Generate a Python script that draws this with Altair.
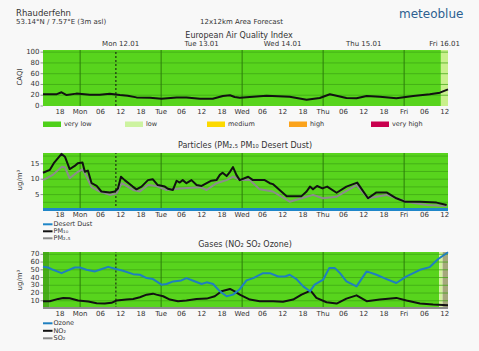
import altair as alt
import pandas as pd

FONT = "DejaVu Sans"
TXT = "#333333"
GREEN = "#58d41d"
HGRID = "#3da313"
VGRID = "#2c7d0b"

# ---------------- data (hours relative to Mon 12.01 00:00) ----------------
X_DOMAIN = [-11, 109]
midnights = [0, 24, 48, 72, 96]
now_hour = 10.6

xtick_h = [-6, 0, 6, 12, 18, 24, 30, 36, 42, 48, 54, 60, 66, 72, 78, 84, 90, 96, 102, 108]
xtick_lab = ["18", "Mon", "06", "12", "18", "Tue", "06", "12", "18", "Wed", "06", "12",
             "18", "Thu", "06", "12", "18", "Fri", "06", "12"]
day_h = [12, 36, 60, 84, 108]
day_lab = ["Mon 12.01", "Tue 13.01", "Wed 14.01", "Thu 15.01", "Fri 16.01"]

# CAQI
caqi_h = [-11, -9, -6.9, -5.5, -4, -1.1, 2.9, 5.8, 8.8, 11.8, 14.1, 16.7, 20.7, 24.1, 28.6,
          31.5, 35.5, 39.3, 42.3, 44.4, 45.8, 47.3, 51.3, 55.2, 62.1, 67.1, 71.0, 74.0, 78.9,
          81.9, 84.9, 88.8, 93.7, 98.7, 103.6, 106.6, 109]
caqi_v = [22, 22, 22, 25.5, 20.4, 23, 21, 21, 22.9, 20.4, 19, 16, 15.5, 13.6, 16,
          16, 13.6, 13.6, 18.6, 19.9, 16.7, 15.5, 17.3, 19.2, 17.3, 11.7, 14.9, 21.7, 14.9,
          14.3, 18.6, 17.3, 14.3, 18.6, 21.7, 24.7, 31]
caqi_band_h1 = [-11, 106.9]
caqi_band_h2 = [106.9, 109]
caqi_band_col = ["#58d41d", "#c9f08c"]

legend_lab = ["very low", "low", "medium", "high", "very high"]
legend_col = ["#4fd01a", "#cdf3a0", "#fcd900", "#fba31c", "#c9004e"]

# Particles
pm10_h = [-11, -9, -7.8, -5.5, -4.5, -3.1, -1.6, -0.7, 0.7, 1.4, 2.3, 3.4, 4.9, 6.3, 8.8,
          10.3, 11.2, 12.1, 13.2, 15.6, 16.7, 18.2, 20.1, 21.5, 23.0, 25.1, 26.0, 27.5, 28.6,
          29.5, 30.4, 31.5, 33.0, 34.5, 36.0, 37.5, 38.9, 40.4, 41.4, 42.2, 43.4, 44.4, 45.3,
          46.3, 47.3, 49.8, 51.2, 54.7, 56.2, 57.1, 61.2, 65.6, 67.1, 68.1, 69.0, 70.2, 71.8,
          73.2, 76.0, 78.9, 82.1, 85.3, 87.8, 90.8, 93.7, 96.2, 99.7, 100.7, 105.6, 108.6]
pm10_v = [12.1, 13, 15.2, 18.2, 17.3, 13.3, 14.3, 15.2, 15.4, 12.4, 12.8, 8.7, 7.8, 6, 5.7,
          6, 7, 10.8, 9.7, 7.6, 6.7, 7.6, 9.7, 10, 8.1, 7.6, 6.9, 6.5, 9.5,
          8.9, 9.7, 8.7, 9.7, 8.1, 7.8, 8.7, 9.5, 9.7, 11.4, 12.1, 11, 12.4, 13.9,
          11.4, 9.7, 10.8, 9.7, 9.7, 8.7, 8.4, 4.5, 4.5, 6, 7.6, 6.7, 7.8, 7,
          7.6, 5.6, 7.6, 8.9, 3.8, 5.7, 5.7, 3.8, 2.7, 2.7, 2.7, 2.4, 1.6]
pm25_h = [-11, -8.1, -5.5, -4.5, -3.1, -0.7, 0.7, 1.9, 3.4, 5.8, 8.8, 10.8, 12.3, 15.7, 17.7,
          20.1, 22.6, 25.6, 29.5, 35.5, 37.5, 40.4, 43.4, 45.3, 47.3, 50.3, 53.2, 57.1, 62.1,
          65.6, 69.0, 71.9, 76.0, 81.9, 85.3, 90.8, 93.7, 96.7, 102.6, 108.6]
pm25_v = [9.7, 11.4, 14, 13.9, 10.3, 12.4, 13.2, 10.8, 7.4, 6, 4.9, 5.4, 8.7, 6.5, 6,
          8.1, 7.8, 6.5, 7, 7.4, 6.5, 8.7, 9.7, 10.8, 9.7, 9.7, 6.7, 6, 2.7,
          3.8, 4.9, 3.8, 4.3, 8.1, 3.8, 4.9, 3.8, 2.7, 1.6, 1.3]
dust_h = [-11, 24, 48, 72, 96, 109]
dust_v = [0.2, 0.2, 0.2, 0.2, 0.2, 0.2]

# Gases
ozone_h = [-11, -9.5, -8, -5.5, -4, -1.6, -0.1, 1.9, 4.4, 5.8, 8.3, 10.3, 12.7, 15.7, 17.7,
           19.7, 21.6, 24.1, 25.6, 27.6, 30, 31.5, 33.5, 36, 37.5, 39.4, 41.4, 43.4, 45.3,
           47.3, 49.3, 51.3, 54.2, 56.2, 58.7, 60.7, 62.1, 64.1, 66.1, 68.1, 69.5, 72, 73.8,
           75.5, 77, 78.9, 81.9, 84.9, 87.8, 90.8, 93.7, 96.7, 100.7, 103.6, 106.1, 109]
ozone_v = [54, 53, 50, 45.7, 48.7, 53, 53, 50, 47.9, 50, 53.8, 51.3, 48.7, 44.4, 43.6,
           39.3, 38, 30.8, 31.6, 35, 36.3, 39.3, 35.9, 31.6, 33.8, 31.6, 22.2, 15.8, 17.9,
           25, 36.3, 39.3, 45.7, 45.7, 41.4, 41.4, 43.6, 38, 28.6, 22.2, 30.8, 37.2, 52.2,
           52.2, 45.7, 35, 28.6, 47.9, 43.6, 38, 32.9, 41.4, 50, 53.5, 64, 72.7]
no2_h = [-11, -9, -6.5, -5, -3.1, -0.6, 2.4, 4.9, 7.3, 9.3, 10.8, 13.7, 15.7, 17.7, 19.7,
         21.6, 22.6, 24.6, 26.6, 29, 31.5, 34.5, 37.5, 39.9, 41.9, 44.4, 45.8, 47.3, 50.3,
         53.2, 57.2, 60.1, 63.1, 65.6, 68.3, 70, 73, 76, 78.9, 81.9, 84.9, 88.8, 93.7, 96.7,
         100.7, 104.6, 109]
no2_v = [9.4, 9.4, 12.4, 13.7, 13.2, 10.3, 9, 6.8, 6.4, 7.3, 10.3, 11.5, 12.4, 14.5, 17.9,
         19.2, 17.9, 15.8, 11.5, 9.4, 10.3, 12.4, 12.8, 15.8, 22.2, 25.3, 22.2, 17.9, 11.5,
         9.4, 9.4, 8.6, 11.5, 17.9, 23, 13.7, 8.1, 6.4, 12.8, 17, 9.4, 11.5, 13.7, 10.3,
         6.4, 5.1, 4.2]
so2_h = [-11, 24, 48, 72, 96, 109]
so2_v = [0.8, 0.8, 0.8, 0.8, 0.8, 0.8]
gas_band_h1 = [-11, -9, 106.4, 107.4]
gas_band_h2 = [-9, 106.4, 107.4, 109]
gas_band_col = ["#47ad19", "#58d41d", "#d2f19c", "#a5a87c"]

# ---------------- helpers ----------------
XS = alt.Scale(domain=X_DOMAIN, range=[43, 448], nice=False, zero=False)


def txt(s, x, y, size=7, align="left", color=TXT, weight="normal", angle=0):
    kw = dict(align=align, baseline="middle", fontSize=size, font=FONT, color=color,
              fontWeight=weight)
    if angle:
        kw["angle"] = angle
    return alt.Chart(pd.DataFrame({"t": [s]})).mark_text(**kw).encode(
        x=alt.value(x), y=alt.value(y), text="t:N")


def panel(ydom, yrng, bands, grid_vals, tick_vals, series, xlab_y):
    ys = alt.Scale(domain=ydom, range=yrng, nice=False, zero=False)
    layers = []
    bdf = pd.DataFrame({"h1": bands[0], "h2": bands[1], "col": bands[2],
                        "y1": ydom[0], "y2": ydom[1]})
    layers.append(alt.Chart(bdf).mark_rect().encode(
        x=alt.X("h1:Q", scale=XS, axis=None), x2="h2:Q",
        y=alt.Y("y1:Q", scale=ys, axis=None), y2="y2:Q",
        color=alt.Color("col:N", scale=None)))
    gdf = pd.DataFrame({"g": grid_vals, "h1": X_DOMAIN[0], "h2": X_DOMAIN[1]})
    layers.append(alt.Chart(gdf).mark_rule(color=HGRID, strokeWidth=0.8, opacity=0.9).encode(
        x=alt.X("h1:Q", scale=XS, axis=None), x2="h2:Q",
        y=alt.Y("g:Q", scale=ys, axis=None)))
    vdf = pd.DataFrame({"h": midnights, "y1": ydom[0], "y2": ydom[1]})
    layers.append(alt.Chart(vdf).mark_rule(color=VGRID, strokeWidth=1).encode(
        x=alt.X("h:Q", scale=XS, axis=None),
        y=alt.Y("y1:Q", scale=ys, axis=None), y2="y2:Q"))
    ndf = pd.DataFrame({"h": [now_hour], "y1": ydom[0], "y2": ydom[1]})
    layers.append(alt.Chart(ndf).mark_rule(color="#111111", strokeWidth=1,
                                           strokeDash=[2, 2]).encode(
        x=alt.X("h:Q", scale=XS, axis=None),
        y=alt.Y("y1:Q", scale=ys, axis=None), y2="y2:Q"))
    for hs, vs, col, w in series:
        sdf = pd.DataFrame({"h": hs, "v": vs})
        layers.append(alt.Chart(sdf).mark_line(color=col, strokeWidth=w,
                                               strokeJoin="round", clip=True).encode(
            x=alt.X("h:Q", scale=XS, axis=None),
            y=alt.Y("v:Q", scale=ys, axis=None)))
    tdf = pd.DataFrame({"v": tick_vals, "lab": [str(t) for t in tick_vals]})
    layers.append(alt.Chart(tdf).mark_text(align="right", baseline="middle", fontSize=7,
                                           font=FONT, color=TXT).encode(
        x=alt.value(39.5), y=alt.Y("v:Q", scale=ys, axis=None), text="lab:N"))
    layers.append(alt.Chart(tdf).mark_rule(color="#777777", strokeWidth=0.8).encode(
        x=alt.value(40.5), x2=alt.value(43), y=alt.Y("v:Q", scale=ys, axis=None)))
    xdf = pd.DataFrame({"h": xtick_h, "lab": xtick_lab})
    layers.append(alt.Chart(xdf).mark_text(align="center", baseline="middle", fontSize=7,
                                           font=FONT, color=TXT).encode(
        x=alt.X("h:Q", scale=XS, axis=None), y=alt.value(xlab_y), text="lab:N"))
    return alt.layer(*layers)


# ---------------- panels ----------------
p1 = panel([0, 104], [106, 50], (caqi_band_h1, caqi_band_h2, caqi_band_col),
           [20, 40, 60, 80, 100], [0, 20, 40, 60, 80, 100],
           [(caqi_h, caqi_v, "#111111", 2)], 112.3)

p2 = panel([0, 18.5], [210, 153], ([X_DOMAIN[0]], [X_DOMAIN[1]], [GREEN]),
           [2.5, 5, 7.5, 10, 12.5, 15, 17.5], [5, 10, 15],
           [(dust_h, dust_v, "#1f86c8", 3), (pm25_h, pm25_v, "#8c8c8c", 2),
            (pm10_h, pm10_v, "#111111", 2)], 215)

p3 = panel([0, 73], [308.5, 252], (gas_band_h1, gas_band_h2, gas_band_col),
           [10, 20, 30, 40, 50, 60, 70], [10, 20, 30, 40, 50, 60, 70],
           [(so2_h, so2_v, "#8c8c8c", 2), (no2_h, no2_v, "#111111", 2),
            (ozone_h, ozone_v, "#1f7fbf", 2)], 314.3)

# day labels on top
ddf = pd.DataFrame({"h": day_h, "lab": day_lab})
days = alt.Chart(ddf).mark_text(align="center", baseline="middle", fontSize=7, font=FONT,
                                color=TXT).encode(
    x=alt.X("h:Q", scale=XS, axis=None), y=alt.value(44.3), text="lab:N")

extras = [
    txt("Rhauderfehn", 16, 12.5, size=8.5),
    txt("53.14°N / 7.57°E (3m asl)", 16, 21.7, size=7),
    txt("12x12km Area Forecast", 200, 21.7, size=7),
    txt("meteoblue", 399, 13.5, size=12, color="#2d5f90"),
    txt("European Air Quality Index", 239, 36, size=8, align="center"),
    txt("CAQI", 19.5, 77, size=7, align="center", angle=270),
    txt("Particles (PM₂.₅ PM₁₀ Desert Dust)", 245, 145.7, size=8, align="center"),
    txt("ug/m³", 19.5, 180, size=7, align="center", angle=270),
    txt("Gases (NO₂ SO₂ Ozone)", 245, 245, size=8, align="center"),
    txt("ug/m³", 19.5, 280, size=7, align="center", angle=270),
]

# CAQI legend
for i, (lab, col) in enumerate(zip(legend_lab, legend_col)):
    x0 = 43 + 82 * i
    extras.append(alt.Chart(pd.DataFrame({"c": [col]})).mark_rect(color=col).encode(
        x=alt.value(x0), x2=alt.value(x0 + 18), y=alt.value(121.5), y2=alt.value(127)))
    extras.append(txt(lab, x0 + 21, 124.3, size=6.5))

# line legends
line_leg = [("Desert Dust", "#1f86c8", 224.3), ("PM₁₀", "#111111", 231.3),
            ("PM₂.₅", "#8c8c8c", 238.3),
            ("Ozone", "#1f7fbf", 323.3), ("NO₂", "#111111", 330.8), ("SO₂", "#8c8c8c", 338.3)]
for lab, col, yy in line_leg:
    extras.append(alt.Chart(pd.DataFrame({"c": [col]})).mark_rule(color=col,
                                                                    strokeWidth=2).encode(
        x=alt.value(43), x2=alt.value(52.5), y=alt.value(yy)))
    extras.append(txt(lab, 53.5, yy, size=6.5))

chart = alt.layer(p1, p2, p3, days, *extras).resolve_scale(
    y="independent"
).properties(
    width=479, height=351, padding=0,
    autosize=alt.AutoSizeParams(type="none"),
    background="#f8f8f8",
).configure_view(stroke=None)

chart.save("out.html", embed_options={"renderer": "svg", "actions": False})
